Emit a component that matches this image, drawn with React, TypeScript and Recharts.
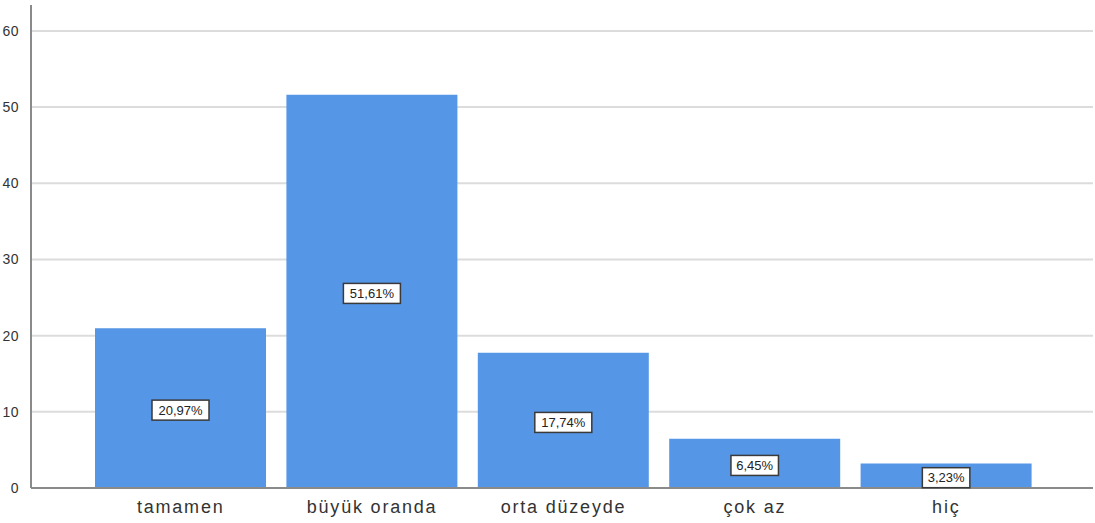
import React from 'react';
import { BarChart, Bar, XAxis, YAxis, CartesianGrid, LabelList } from 'recharts';

const categories = ['tamamen', 'büyük oranda', 'orta düzeyde', 'çok az', 'hiç'];
const percents = [20.97, 51.61, 17.74, 6.45, 3.23];
const yTicks = [0, 10, 20, 30, 40, 50, 60];

const data = categories.map((name, i) => ({ name, value: percents[i] }));

const fmt = (v: number) => v.toFixed(2).replace('.', ',') + '%';

function BoxLabel(props: any) {
  const { x, y, width, height, value } = props;
  const text = fmt(value);
  const w = text.length * 9.5;
  const h = 20;
  const cx = x + width / 2;
  const cy = y + height / 2 + 2;
  return (
    <g>
      <rect x={cx - w / 2} y={cy - h / 2} width={w} height={h} fill="#fff" stroke="#3a3a3a" strokeWidth={1.5} />
      <text x={cx} y={cy} textAnchor="middle" dominantBaseline="central" fontSize={13} fill="#222" fontFamily="Liberation Sans, Arial, sans-serif">
        {text}
      </text>
    </g>
  );
}

export default function App() {
  return (
    <div style={{ position: 'absolute', left: 0, top: 0, background: '#fff' }}>
      <BarChart
        width={1095}
        height={523}
        data={data}
        margin={{ top: 5, right: 2, left: 0, bottom: 0 }}
        style={{ fontFamily: 'Liberation Sans, Arial, sans-serif' }}
      >
        <CartesianGrid
          vertical={false}
          stroke="#dcdcdc"
          strokeWidth={2}
          horizontalValues={[10, 20, 30, 40, 50, 60]}
        />
        <XAxis
          dataKey="name"
          padding={{ left: 54, right: 51 }}
          height={35}
          axisLine={{ stroke: '#8a8a8a', strokeWidth: 2 }}
          tickLine={false}
          tick={{ fontSize: 18, fill: '#333', letterSpacing: 1.8 }}
          tickMargin={6}
          interval={0}
        />
        <YAxis
          width={31}
          domain={[0, 63.4]}
          ticks={yTicks}
          allowDataOverflow
          axisLine={{ stroke: '#8a8a8a', strokeWidth: 2 }}
          tickLine={false}
          tick={{ fontSize: 14, fill: '#333', letterSpacing: 0.5 }}
          tickMargin={6}
        />
        <Bar dataKey="value" fill="#5596e6" barSize={171} isAnimationActive={false}>
          <LabelList dataKey="value" content={<BoxLabel />} />
        </Bar>
      </BarChart>
    </div>
  );
}
